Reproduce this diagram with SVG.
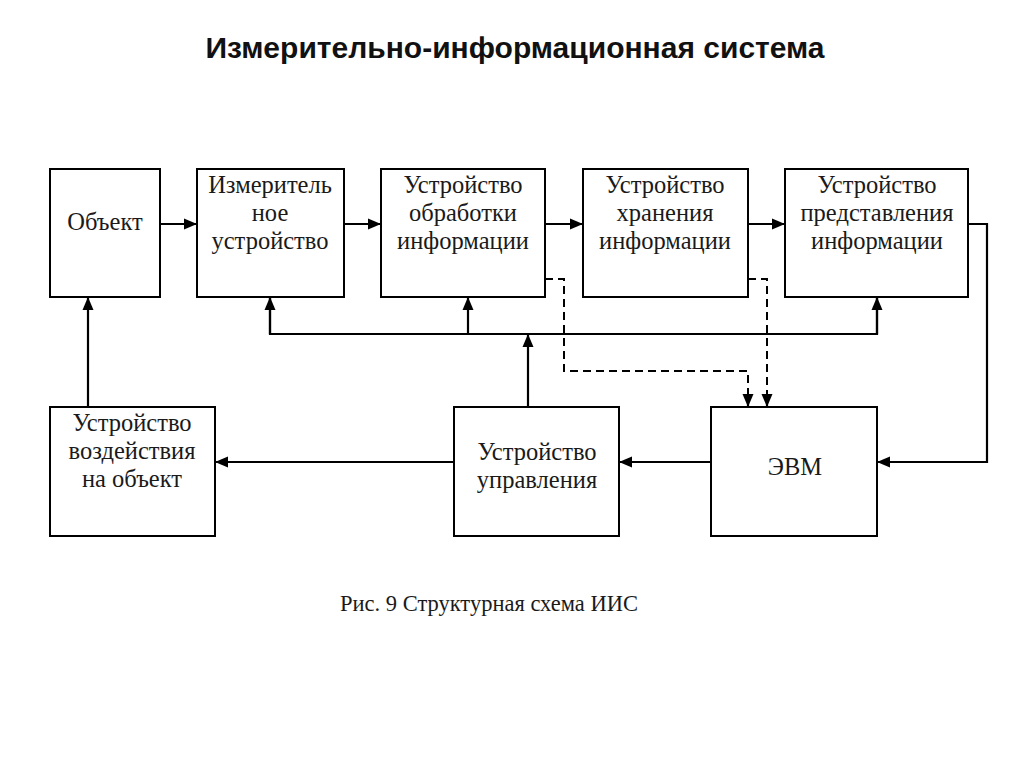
<svg xmlns="http://www.w3.org/2000/svg" width="1024" height="767" viewBox="0 0 1024 767">
<style>
.box{fill:#fff;stroke:#000;stroke-width:2}
.t{font-family:"Liberation Serif","Times New Roman",serif;font-size:24.5px;fill:#1a1a1a;text-anchor:middle}
.c{fill:none;stroke:#000;stroke-width:2.2}
.d{fill:none;stroke:#000;stroke-width:2;stroke-dasharray:8,5}
</style>
<defs>
<marker id="ah" markerUnits="userSpaceOnUse" markerWidth="14" markerHeight="14" viewBox="0 0 14 14" refX="13" refY="7" orient="auto">
<path d="M0,1.5 L13,7 L0,12.5 Z" fill="#000"/>
</marker>
</defs>
<rect width="1024" height="767" fill="#fff"/>
<text x="515" y="58" style="font-family:'Liberation Sans',Arial,sans-serif;font-weight:bold;font-size:30px;text-anchor:middle" fill="#111">Измерительно-информационная система</text>

<g id="connectors">
<line class="c" x1="160" y1="224" x2="197" y2="224" marker-end="url(#ah)"/>
<line class="c" x1="344" y1="224" x2="381" y2="224" marker-end="url(#ah)"/>
<line class="c" x1="545" y1="224" x2="583" y2="224" marker-end="url(#ah)"/>
<line class="c" x1="748" y1="224" x2="785" y2="224" marker-end="url(#ah)"/>
<polyline class="c" points="968,224 987,224 987,462 877,462" marker-end="url(#ah)"/>
<line class="c" x1="711" y1="462" x2="619" y2="462" marker-end="url(#ah)"/>
<line class="c" x1="454" y1="462" x2="215" y2="462" marker-end="url(#ah)"/>
<line class="c" x1="88" y1="407" x2="88" y2="297" marker-end="url(#ah)"/>
<line class="c" x1="528" y1="407" x2="528" y2="334" marker-end="url(#ah)"/>
<polyline class="c" points="270,297 270,334 877,334 877,297"/>
<line class="c" x1="270" y1="334" x2="270" y2="297" marker-end="url(#ah)"/>
<line class="c" x1="468" y1="334" x2="468" y2="297" marker-end="url(#ah)"/>
<line class="c" x1="877" y1="334" x2="877" y2="297" marker-end="url(#ah)"/>
<polyline class="d" points="545,279 564,279 564,371 748,371 748,396"/>
<line class="c" x1="748" y1="394" x2="748" y2="407" marker-end="url(#ah)"/>
<polyline class="d" points="748,279 767,279 767,396"/>
<line class="c" x1="767" y1="394" x2="767" y2="407" marker-end="url(#ah)"/>
</g>

<g id="obj">
<rect class="box" x="50" y="169" width="110" height="128"/>
<text class="t" x="105" y="230">Объект</text>
</g>
<g id="izm">
<rect class="box" x="197" y="169" width="147" height="128"/>
<text class="t" x="270" y="193">Измеритель</text>
<text class="t" x="270" y="221">ное</text>
<text class="t" x="270" y="249">устройство</text>
</g>
<g id="obr">
<rect class="box" x="381" y="169" width="164" height="128"/>
<text class="t" x="463" y="193">Устройство</text>
<text class="t" x="463" y="221">обработки</text>
<text class="t" x="463" y="249">информации</text>
</g>
<g id="hran">
<rect class="box" x="583" y="169" width="165" height="128"/>
<text class="t" x="665" y="193">Устройство</text>
<text class="t" x="665" y="221">хранения</text>
<text class="t" x="665" y="249">информации</text>
</g>
<g id="pred">
<rect class="box" x="785" y="169" width="183" height="128"/>
<text class="t" x="877" y="193">Устройство</text>
<text class="t" x="877" y="221">представления</text>
<text class="t" x="877" y="249">информации</text>
</g>
<g id="vozd">
<rect class="box" x="50" y="407" width="165" height="129"/>
<text class="t" x="132" y="431">Устройство</text>
<text class="t" x="132" y="459">воздействия</text>
<text class="t" x="132" y="487">на объект</text>
</g>
<g id="upr">
<rect class="box" x="454" y="407" width="165" height="129"/>
<text class="t" x="537" y="460">Устройство</text>
<text class="t" x="537" y="488">управления</text>
</g>
<g id="evm">
<rect class="box" x="711" y="407" width="166" height="129"/>
<text class="t" x="795" y="475">ЭВМ</text>
</g>
<text class="t" x="489" y="611" style="font-size:22.5px">Рис. 9 Структурная схема ИИС</text>
</svg>
